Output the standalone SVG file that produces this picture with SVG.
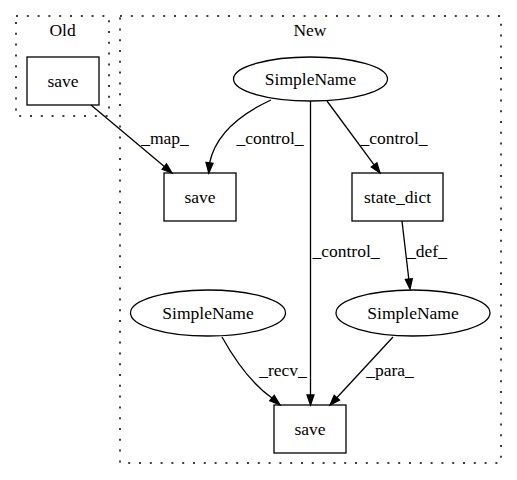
<svg xmlns="http://www.w3.org/2000/svg" width="517" height="480" viewBox="0 0 517 480">
<style>
.cl{fill:none;stroke:#000;stroke-width:1.5;stroke-dasharray:2,8.8}
.nd{fill:none;stroke:#000;stroke-width:1.3}
.ed{fill:none;stroke:#000;stroke-width:1.3}
.ah{fill:#000;stroke:#000;stroke-width:1.3}
</style>
<rect width="517" height="480" fill="#fff"/>
<g id="cluster_old">
<rect class="cl" x="16" y="16" width="93" height="100"/>
<text x="62.5" y="36" font-family="Liberation Serif" font-size="17.5" text-anchor="middle">Old</text>
</g>
<g id="cluster_new">
<rect class="cl" x="120" y="16" width="381" height="447"/>
<text x="310" y="36" font-family="Liberation Serif" font-size="17.5" text-anchor="middle">New</text>
</g>
<g id="old_save">
<rect class="nd" x="27" y="57" width="72" height="48"/>
<text x="63" y="87" font-family="Liberation Serif" font-size="17.5" text-anchor="middle">save</text>
</g>
<g id="simplename_top">
<ellipse class="nd" cx="310.5" cy="79" rx="77" ry="22"/>
<text x="310.5" y="85" font-family="Liberation Serif" font-size="17.5" text-anchor="middle">SimpleName</text>
</g>
<g id="new_save">
<rect class="nd" x="164" y="173" width="72" height="48"/>
<text x="200" y="203" font-family="Liberation Serif" font-size="17.5" text-anchor="middle">save</text>
</g>
<g id="state_dict">
<rect class="nd" x="352" y="173" width="91" height="48"/>
<text x="397.5" y="203" font-family="Liberation Serif" font-size="17.5" text-anchor="middle">state_dict</text>
</g>
<g id="simplename_left">
<ellipse class="nd" cx="208" cy="313" rx="77.5" ry="23"/>
<text x="208" y="319" font-family="Liberation Serif" font-size="17.5" text-anchor="middle">SimpleName</text>
</g>
<g id="simplename_right">
<ellipse class="nd" cx="413" cy="313" rx="77" ry="23"/>
<text x="413" y="319" font-family="Liberation Serif" font-size="17.5" text-anchor="middle">SimpleName</text>
</g>
<g id="save_bottom">
<rect class="nd" x="274" y="405" width="72" height="48"/>
<text x="310" y="435" font-family="Liberation Serif" font-size="17.5" text-anchor="middle">save</text>
</g>
<g id="edges">
<path class="ed" d="M91,105 L164.3,166.6"/>
<polygon class="ah" points="162.1,169.3 166.5,163.9 172,173"/>
<text x="165" y="144" font-family="Liberation Serif" font-size="17.5" text-anchor="middle">_map_</text>
<path class="ed" d="M271,100 C245,112 216,132 209.6,163"/>
<polygon class="ah" points="206,162.5 213,163.3 208.8,173"/>
<text x="270" y="144" font-family="Liberation Serif" font-size="17.5" text-anchor="middle">_control_</text>
<path class="ed" d="M327,101 L374.1,164.9"/>
<polygon class="ah" points="371.3,167 376.9,162.9 380,173"/>
<text x="394" y="144" font-family="Liberation Serif" font-size="17.5" text-anchor="middle">_control_</text>
<path class="ed" d="M310.5,101 L310.5,395"/>
<polygon class="ah" points="307,395 314,395 310.5,405"/>
<text x="346" y="257" font-family="Liberation Serif" font-size="17.5" text-anchor="middle">_control_</text>
<path class="ed" d="M402,221 L408.8,279.1"/>
<polygon class="ah" points="405.4,279.5 412.3,278.7 410,289"/>
<text x="427" y="257" font-family="Liberation Serif" font-size="17.5" text-anchor="middle">_def_</text>
<path class="ed" d="M222,337 C232,355 248,381 272,398"/>
<polygon class="ah" points="269.8,400.7 274.2,395.3 280,405"/>
<text x="283" y="376" font-family="Liberation Serif" font-size="17.5" text-anchor="middle">_recv_</text>
<path class="ed" d="M393,337 L336.8,397.7"/>
<polygon class="ah" points="339.4,400.1 334.2,395.3 330,405"/>
<text x="390" y="376" font-family="Liberation Serif" font-size="17.5" text-anchor="middle">_para_</text>
</g>
</svg>
